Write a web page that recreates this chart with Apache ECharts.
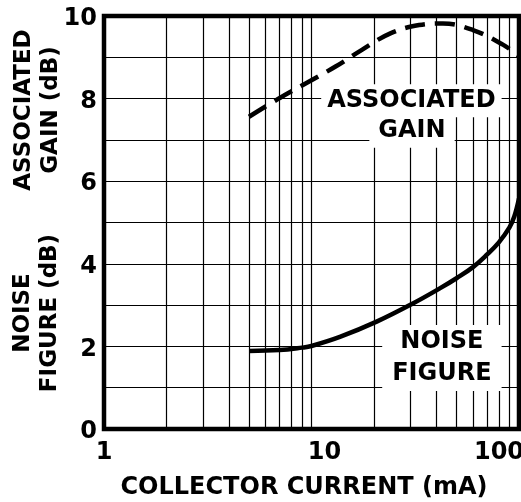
<!DOCTYPE html>
<html>
<head>
    <meta charset="utf-8">
    <title>Gain and noise figure vs collector current</title>
    <script type="text/javascript" src="https://cdn.jsdelivr.net/npm/echarts@6/dist/echarts.min.js"></script>
    <style type="text/css">
        html, body { margin: 0; padding: 0; background: #fff; }
        #main { width: 521px; height: 502px; }
    </style>
</head>
<body>
<div id="main"></div>
<script type="text/javascript">
    // collector current (mA) / associated gain (dB), dashed curve
    var gainCurrent = [5, 7, 9.7, 13, 17.5, 24, 33, 43, 60, 84, 100];
    var gainDb = [7.56, 8.01, 8.41, 8.77, 9.18, 9.58, 9.78, 9.82, 9.66, 9.30, 9.03];

    // collector current (mA) / noise figure (dB), solid curve
    var nfCurrent = [5, 7, 9, 10, 13.7, 20.6, 30.8, 41.7, 50, 60, 70, 80, 90, 95, 100];
    var nfDb = [1.89, 1.91, 1.97, 2.01, 2.23, 2.6, 3.04, 3.41, 3.65, 3.92, 4.22, 4.52, 4.88, 5.15, 5.58];

    // tick labels
    var xTickLabels = ['1', '10', '100'];
    var yTickLabels = ['0', '2', '4', '6', '8', '10'];

    var FONT = '"DejaVu Sans", "Liberation Sans", Arial, sans-serif';

    function pairs(xs, ys) {
        var out = [];
        for (var i = 0; i < xs.length; i++) out.push([xs[i], ys[i]]);
        return out;
    }

    var myChart = echarts.init(document.getElementById('main'));

    var option = {
        backgroundColor: '#fff',
        animation: false,
        textStyle: { fontFamily: FONT, color: '#000' },
        grid: {
            left: 104, right: 2, top: 16, bottom: 73,
            outerBoundsMode: 'none',
            containLabel: false,
            show: true, borderColor: '#000', borderWidth: 4.5,
            backgroundColor: 'transparent'
        },
        xAxis: {
            type: 'log',
            logBase: 10,
            min: 1,
            max: 100,
            axisLine: { show: false },
            axisTick: { show: false },
            minorTick: { show: false, splitNumber: 9 },
            splitLine: { show: true, lineStyle: { color: '#000', width: 1.2 } },
            minorSplitLine: { show: true, lineStyle: { color: '#000', width: 1.2 } },
            axisLabel: {
                margin: 12,
                formatter: function (v) {
                    var s = String(Math.round(v));
                    if (xTickLabels.indexOf(s) < 0) return '';
                    if (s === '10') return '{r|' + s + '}';
                    if (s === '100') return '{l|' + s + '}';
                    return '{c|' + s + '}';
                },
                rich: {
                    c: { fontFamily: FONT, fontWeight: 'bold', fontSize: 24, color: '#000' },
                    r: { fontFamily: FONT, fontWeight: 'bold', fontSize: 24, color: '#000', padding: [0, 0, 0, 26] },
                    l: { fontFamily: FONT, fontWeight: 'bold', fontSize: 24, color: '#000', padding: [0, 40, 0, 0] }
                }
            },
            name: 'COLLECTOR CURRENT (mA)',
            nameLocation: 'middle',
            nameGap: 47,
            nameTextStyle: {
                fontFamily: FONT, fontWeight: 'bold', fontSize: 24, color: '#000',
                padding: [0, 15, 0, 0]
            }
        },
        yAxis: {
            type: 'value',
            min: 0,
            max: 10,
            interval: 1,
            axisLine: { show: false },
            axisTick: { show: false },
            splitLine: { show: true, lineStyle: { color: '#000', width: 1.2 } },
            axisLabel: {
                margin: 7,
                formatter: function (v) {
                    var s = String(v);
                    return yTickLabels.indexOf(s) >= 0 ? '{v|' + s + '}' : '';
                },
                rich: {
                    v: { fontFamily: FONT, fontWeight: 'bold', fontSize: 24, color: '#000', padding: [6, 0, 0, 0] }
                }
            }
        },
        graphic: [
            {
                type: 'text', x: 38, y: 110, rotation: Math.PI / 2,
                style: {
                    text: 'ASSOCIATED\nGAIN (dB)',
                    font: 'bold 23px ' + FONT,
                    textAlign: 'center', textVerticalAlign: 'middle',
                    lineHeight: 27, fill: '#000'
                }
            },
            {
                type: 'text', x: 37, y: 313, rotation: Math.PI / 2,
                style: {
                    text: 'NOISE\nFIGURE (dB)',
                    font: 'bold 23px ' + FONT,
                    textAlign: 'center', textVerticalAlign: 'middle',
                    lineHeight: 27, fill: '#000'
                }
            }
        ],
        series: [
            {
                name: 'ASSOCIATED GAIN',
                type: 'line',
                smooth: 0.4,
                symbol: 'none',
                data: pairs(gainCurrent, gainDb),
                lineStyle: { color: '#000', width: 4.5, type: [20, 10] },
                markPoint: {
                    symbol: 'rect', symbolSize: 0,
                    label: {
                        show: true, position: 'inside',
                        fontFamily: FONT, fontWeight: 'bold', fontSize: 24, color: '#000',
                        backgroundColor: '#fff'
                    },
                    data: [
                        { coord: [30.3, 7.95], value: 'ASSOCIATED',
                          label: { formatter: 'ASSOCIATED', padding: [4, 6, 5, 6] } },
                        { coord: [30.5, 7.22], value: 'GAIN',
                          label: { formatter: 'GAIN', padding: [5, 9, 5, 9] } }
                    ]
                }
            },
            {
                name: 'NOISE FIGURE',
                type: 'line',
                smooth: 0.4,
                symbol: 'none',
                data: pairs(nfCurrent, nfDb),
                lineStyle: { color: '#000', width: 4.5 },
                markPoint: {
                    symbol: 'rect', symbolSize: 0,
                    label: {
                        show: true, position: 'inside',
                        fontFamily: FONT, fontWeight: 'bold', fontSize: 24, color: '#000',
                        backgroundColor: '#fff', lineHeight: 32, align: 'center'
                    },
                    data: [
                        { coord: [42.5, 1.72], value: 'NOISE',
                          label: { formatter: 'NOISE\nFIGURE', padding: [1, 10, 1, 10] } }
                    ]
                }
            }
        ]
    };

    myChart.setOption(option);
</script>
</body>
</html>
